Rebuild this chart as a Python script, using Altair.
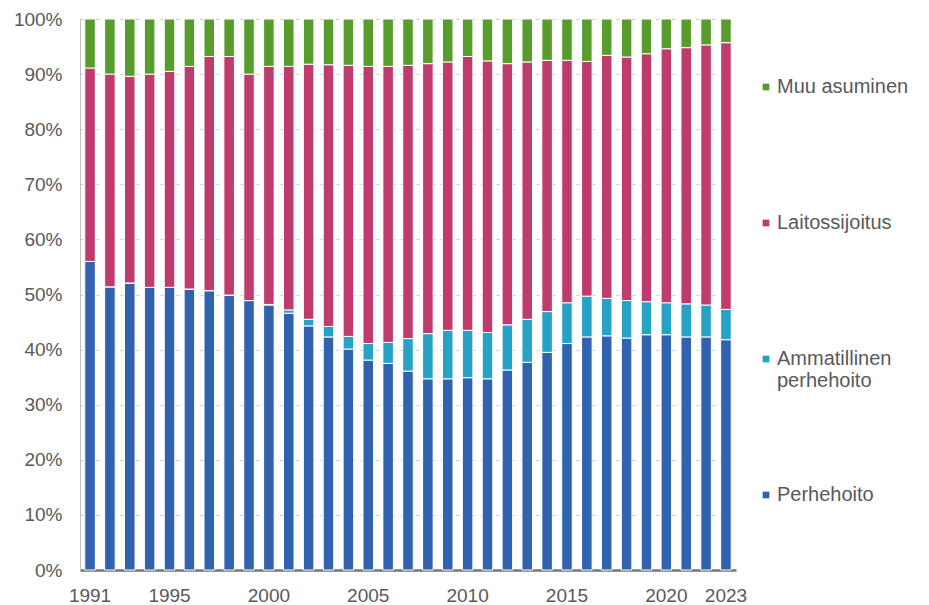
import altair as alt
import pandas as pd

years = list(range(1991, 2024))

# shares (%)
perhehoito = [56.0, 51.4, 52.1, 51.3, 51.3, 51.0, 50.7, 49.9, 48.9, 48.1,
              46.6, 44.3, 42.3, 40.1, 38.1, 37.5, 36.1, 34.7, 34.7, 34.9,
              34.7, 36.3, 37.7, 39.5, 41.1, 42.3, 42.5, 42.1, 42.7, 42.7,
              42.3, 42.3, 41.8]
ammatillinen = [0.0, 0.0, 0.0, 0.0, 0.0, 0.0, 0.0, 0.0, 0.0, 0.1,
                0.6, 1.2, 1.9, 2.3, 3.0, 3.8, 5.9, 8.2, 8.8, 8.6,
                8.4, 8.2, 7.8, 7.4, 7.4, 7.4, 6.8, 6.8, 6.0, 5.8,
                6.0, 5.8, 5.5]
laitos = [35.1, 38.6, 37.5, 38.7, 39.2, 40.4, 42.5, 43.3, 41.1, 43.2,
          44.2, 46.3, 47.5, 49.2, 50.3, 50.1, 49.6, 49.0, 48.7, 49.7,
          49.3, 47.4, 46.7, 45.6, 44.0, 42.6, 44.1, 44.2, 45.0, 46.1,
          46.5, 47.2, 48.4]
muu = [8.9, 10.0, 10.4, 10.0, 9.5, 8.6, 6.8, 6.8, 10.0, 8.6,
       8.6, 8.2, 8.3, 8.4, 8.6, 8.6, 8.4, 8.1, 7.8, 6.8,
       7.6, 8.1, 7.8, 7.5, 7.5, 7.7, 6.6, 6.9, 6.3, 5.4,
       5.2, 4.7, 4.3]

series = ["Muu asuminen", "Laitossijoitus", "Ammatillinen perhehoito", "Perhehoito"]
colors = ["#589C2D", "#BE3B6E", "#27A2C4", "#3162AE"]
tick_years = [1991, 1995, 2000, 2005, 2010, 2015, 2020, 2023]
y_ticks = [0, 0.1, 0.2, 0.3, 0.4, 0.5, 0.6, 0.7, 0.8, 0.9, 1.0]

rows = []
stack = [("Perhehoito", perhehoito), ("Ammatillinen perhehoito", ammatillinen),
         ("Laitossijoitus", laitos), ("Muu asuminen", muu)]
for i, yr in enumerate(years):
    for k, (name, vals) in enumerate(stack):
        rows.append({"vuosi": yr, "sarja": name, "osuus": vals[i], "jarj": k})
df = pd.DataFrame(rows)

font = "Liberation Sans"
grey = "#595959"

label_expr = (
    "datum.label == 'Ammatillinen perhehoito' ? ['Ammatillinen', 'perhehoito'] : "
    "datum.label == 'Perhehoito' ? ['\u2002Perhehoito', ' '] : [datum.label, ' ']"
)

chart = alt.Chart(df).mark_bar(stroke="white", strokeWidth=1).encode(
    x=alt.X("vuosi:O", title=None,
            scale=alt.Scale(paddingInner=0.47, paddingOuter=0.24),
            axis=alt.Axis(values=tick_years, labelAngle=0, ticks=False, tickSize=0,
                          labelPadding=16, domainColor="#767676", domainWidth=2.5,
                          grid=False)),
    y=alt.Y("osuus:Q", stack="normalize", title=None,
            scale=alt.Scale(domain=[0, 1]),
            axis=alt.Axis(values=y_ticks, format="%", ticks=False, tickSize=0,
                          labelPadding=18, domainColor="#c0c0c0", domainWidth=1,
                          grid=True, gridDash=[3, 5], gridColor="#c4c4f2",
                          gridWidth=1)),
    color=alt.Color("sarja:N",
                    scale=alt.Scale(domain=series, range=colors),
                    legend=alt.Legend(
                        title=None, orient="none", legendX=676, legendY=58,
                        direction="vertical", symbolType="square", symbolSize=45,
                        symbolStrokeWidth=0, rowPadding=94, padding=0,
                        labelOffset=1, labelLimit=300,
                        labelExpr=label_expr)),
    order=alt.Order("jarj:Q"),
).properties(
    width=656, height=551,
    autosize=alt.AutoSizeParams(type="none"),
    padding={"left": 72, "top": 11, "right": 185, "bottom": 34},
).configure_view(stroke=None).configure_axis(
    labelFont=font, labelFontSize=19, labelColor=grey,
).configure_legend(
    labelFont=font, labelFontSize=20, labelColor=grey,
)

chart.save("out.html", embed_options={"renderer": "svg", "actions": False})
